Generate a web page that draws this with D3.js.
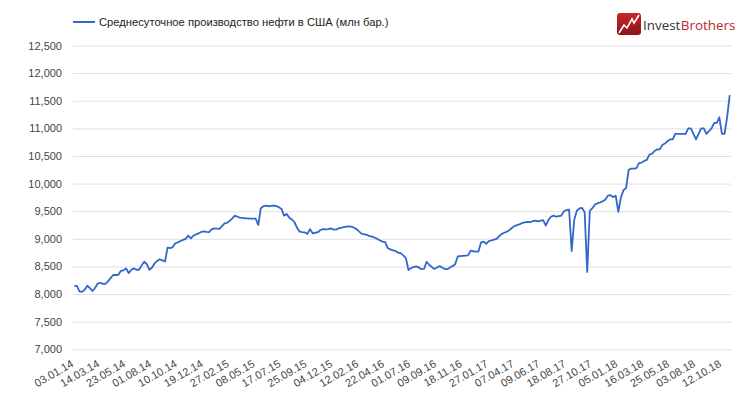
<!DOCTYPE html>
<html>
<head>
<meta charset="utf-8">
<script src="https://cdn.jsdelivr.net/npm/d3@7"></script>
<style>
  body { margin: 0; background: #fff; }
  text { font-family: Arial, "Liberation Sans", sans-serif; }
</style>
</head>
<body>
<div id="chart"></div>
<script>
// weekly average US crude production, thousand bbl/day (one value per week, from 03.01.14)
const prod2014 = [8150, 8150, 8050, 8040, 8080, 8150, 8110, 8055, 8110, 8190,
  8205, 8185, 8185, 8230, 8290, 8345, 8345, 8350, 8420, 8430,
  8465, 8380, 8440, 8465, 8440, 8440, 8520, 8585, 8540, 8440,
  8480, 8555, 8600, 8630, 8610, 8590, 8840, 8830, 8850, 8920,
  8935, 8960, 8980, 9000, 9060, 9010, 9060, 9080, 9100, 9125,
  9135, 9125];
const prod2015 = [9120, 9170, 9190, 9185, 9180, 9230, 9280, 9290,
  9325, 9370, 9420, 9400, 9385, 9380, 9370, 9370, 9365, 9365,
  9365, 9250, 9555, 9590, 9600, 9590, 9595, 9600, 9595, 9570,
  9540, 9420, 9450, 9380, 9350, 9300, 9200, 9130, 9120, 9115,
  9090, 9175, 9100, 9110, 9120, 9160, 9175, 9170, 9175, 9190,
  9170, 9165, 9190, 9200];
const prod2016 = [9210, 9220, 9225, 9220, 9200, 9175,
  9130, 9090, 9080, 9070, 9050, 9040, 9020, 9000, 8970, 8950,
  8940, 8830, 8810, 8790, 8780, 8750, 8740, 8700, 8650, 8435,
  8470, 8490, 8500, 8480, 8450, 8455, 8585, 8530, 8490, 8455,
  8480, 8505, 8480, 8455, 8450, 8480, 8505, 8540, 8680, 8685,
  8690, 8695, 8700, 8785, 8775, 8770, 8770];
const prod2017 = [8935, 8950, 8910,
  8960, 8970, 8985, 9000, 9050, 9090, 9110, 9130, 9160, 9200,
  9235, 9250, 9265, 9290, 9300, 9305, 9300, 9320, 9330, 9315,
  9330, 9340, 9240, 9340, 9400, 9420, 9400, 9410, 9420, 9500,
  9520, 9530, 8780, 9350, 9510, 9550, 9560, 9480, 8400, 9505,
  9555, 9620, 9645, 9660, 9680, 9710, 9780, 9790, 9755, 9780];
const prod2018 = [9490, 9750, 9880, 9920, 10250, 10270, 10270, 10280, 10370, 10380,
  10410, 10430, 10525, 10540, 10590, 10620, 10620, 10700, 10725, 10770,
  10800, 10800, 10900, 10900, 10900, 10900, 10900, 11000, 11000, 10900,
  10800, 10900, 11000, 11000, 10900, 10950, 11000, 11100, 11100, 11200,
  10900, 10900, 11200, 11600];

// every 10th week is labelled
const tickLabels = ['03.01.14', '14.03.14', '23.05.14', '01.08.14', '10.10.14', '19.12.14',
  '27.02.15', '08.05.15', '17.07.15', '25.09.15', '04.12.15', '12.02.16', '22.04.16',
  '01.07.16', '09.09.16', '18.11.16', '27.01.17', '07.04.17', '09.06.17', '18.08.17',
  '27.10.17', '05.01.18', '16.03.18', '25.05.18', '03.08.18', '12.10.18'];
const yTicks = [7000, 7500, 8000, 8500, 9000, 9500, 10000, 10500, 11000, 11500, 12000, 12500];

const seriesName = 'Среднесуточное производство нефти в США (млн бар.)';

const production = [].concat(prod2014, prod2015, prod2016, prod2017, prod2018);

const width = 745;
const height = 394;
const plot = {left: 73, right: 731, top: 45.5, bottom: 349.3};

const svg = d3.select('#chart')
  .append('svg')
    .attr('width', width)
    .attr('height', height);

const xScale = d3.scaleBand()
  .domain(d3.range(production.length))
  .range([plot.left, plot.right]);

const xPos = (i) => xScale(i) + xScale.bandwidth() / 2;

const yScale = d3.scaleLinear()
  .domain([7000, 12500])
  .range([plot.bottom, plot.top]);

// gridlines + y labels
const yAxis = svg.append('g')
  .attr('transform', `translate(${plot.left}, 0)`)
  .call(d3.axisLeft(yScale)
    .tickValues(yTicks)
    .tickSize(-(plot.right - plot.left))
    .tickPadding(11)
    .tickFormat(d3.format(',')));

yAxis.select('.domain').remove();
yAxis.selectAll('.tick line')
  .attr('stroke', '#e0e0e0')
  .attr('stroke-width', 1);
yAxis.selectAll('.tick text')
  .attr('fill', '#444')
  .style('font-size', '11px');

// x labels, slanted
svg.append('g')
  .selectAll('text')
  .data(tickLabels)
  .join('text')
    .attr('transform', (d, k) => `translate(${xPos(k * 10)}, 366) rotate(-30)`)
    .attr('text-anchor', 'end')
    .attr('fill', '#444')
    .style('font-size', '11px')
    .text((d) => d);

// the series
const line = d3.line()
  .x((d, i) => xPos(i))
  .y((d) => yScale(d));

svg.append('path')
  .datum(production)
  .attr('fill', 'none')
  .attr('stroke', '#3366cc')
  .attr('stroke-width', 1.8)
  .attr('stroke-linejoin', 'round')
  .attr('d', line);

// legend
const legend = svg.append('g');
legend.append('line')
  .attr('x1', 73).attr('x2', 95)
  .attr('y1', 22).attr('y2', 22)
  .attr('stroke', '#3366cc')
  .attr('stroke-width', 2);
legend.append('text')
  .attr('x', 99)
  .attr('y', 26)
  .attr('fill', '#222')
  .style('font-size', '11.2px')
  .text(seriesName);

// logo
const logo = svg.append('g').attr('transform', 'translate(617, 13)');
const grad = svg.append('defs').append('linearGradient')
  .attr('id', 'logoGrad')
  .attr('x1', 0).attr('y1', 0).attr('x2', 0).attr('y2', 1);
grad.append('stop').attr('offset', '0%').attr('stop-color', '#c8262d');
grad.append('stop').attr('offset', '100%').attr('stop-color', '#8e1419');
logo.append('rect')
  .attr('width', 24).attr('height', 22)
  .attr('rx', 3)
  .attr('fill', 'url(#logoGrad)');
logo.append('polyline')
  .attr('points', '2,20 7,12 10,15 15,6 17,10 22,2')
  .attr('fill', 'none')
  .attr('stroke', '#fff')
  .attr('stroke-width', 1.6);

// size the brand text so both words together take ~92px
const invest = logo.append('text')
  .attr('x', 26)
  .attr('y', 17)
  .attr('fill', '#333')
  .style('font-size', '15px')
  .style('font-family', '"Open Sans", sans-serif')
  .text('Invest');
const brothers = logo.append('text')
  .attr('y', 17)
  .attr('fill', '#c1272d')
  .style('font-size', '15px')
  .style('font-family', '"Open Sans", sans-serif')
  .text('Brothers');
const total = invest.node().getComputedTextLength() + brothers.node().getComputedTextLength();
const brandSize = 15 * 92 / total;
invest.style('font-size', `${brandSize}px`);
brothers.style('font-size', `${brandSize}px`)
  .attr('x', 26 + invest.node().getComputedTextLength() + 0.5);
</script>
</body>
</html>
